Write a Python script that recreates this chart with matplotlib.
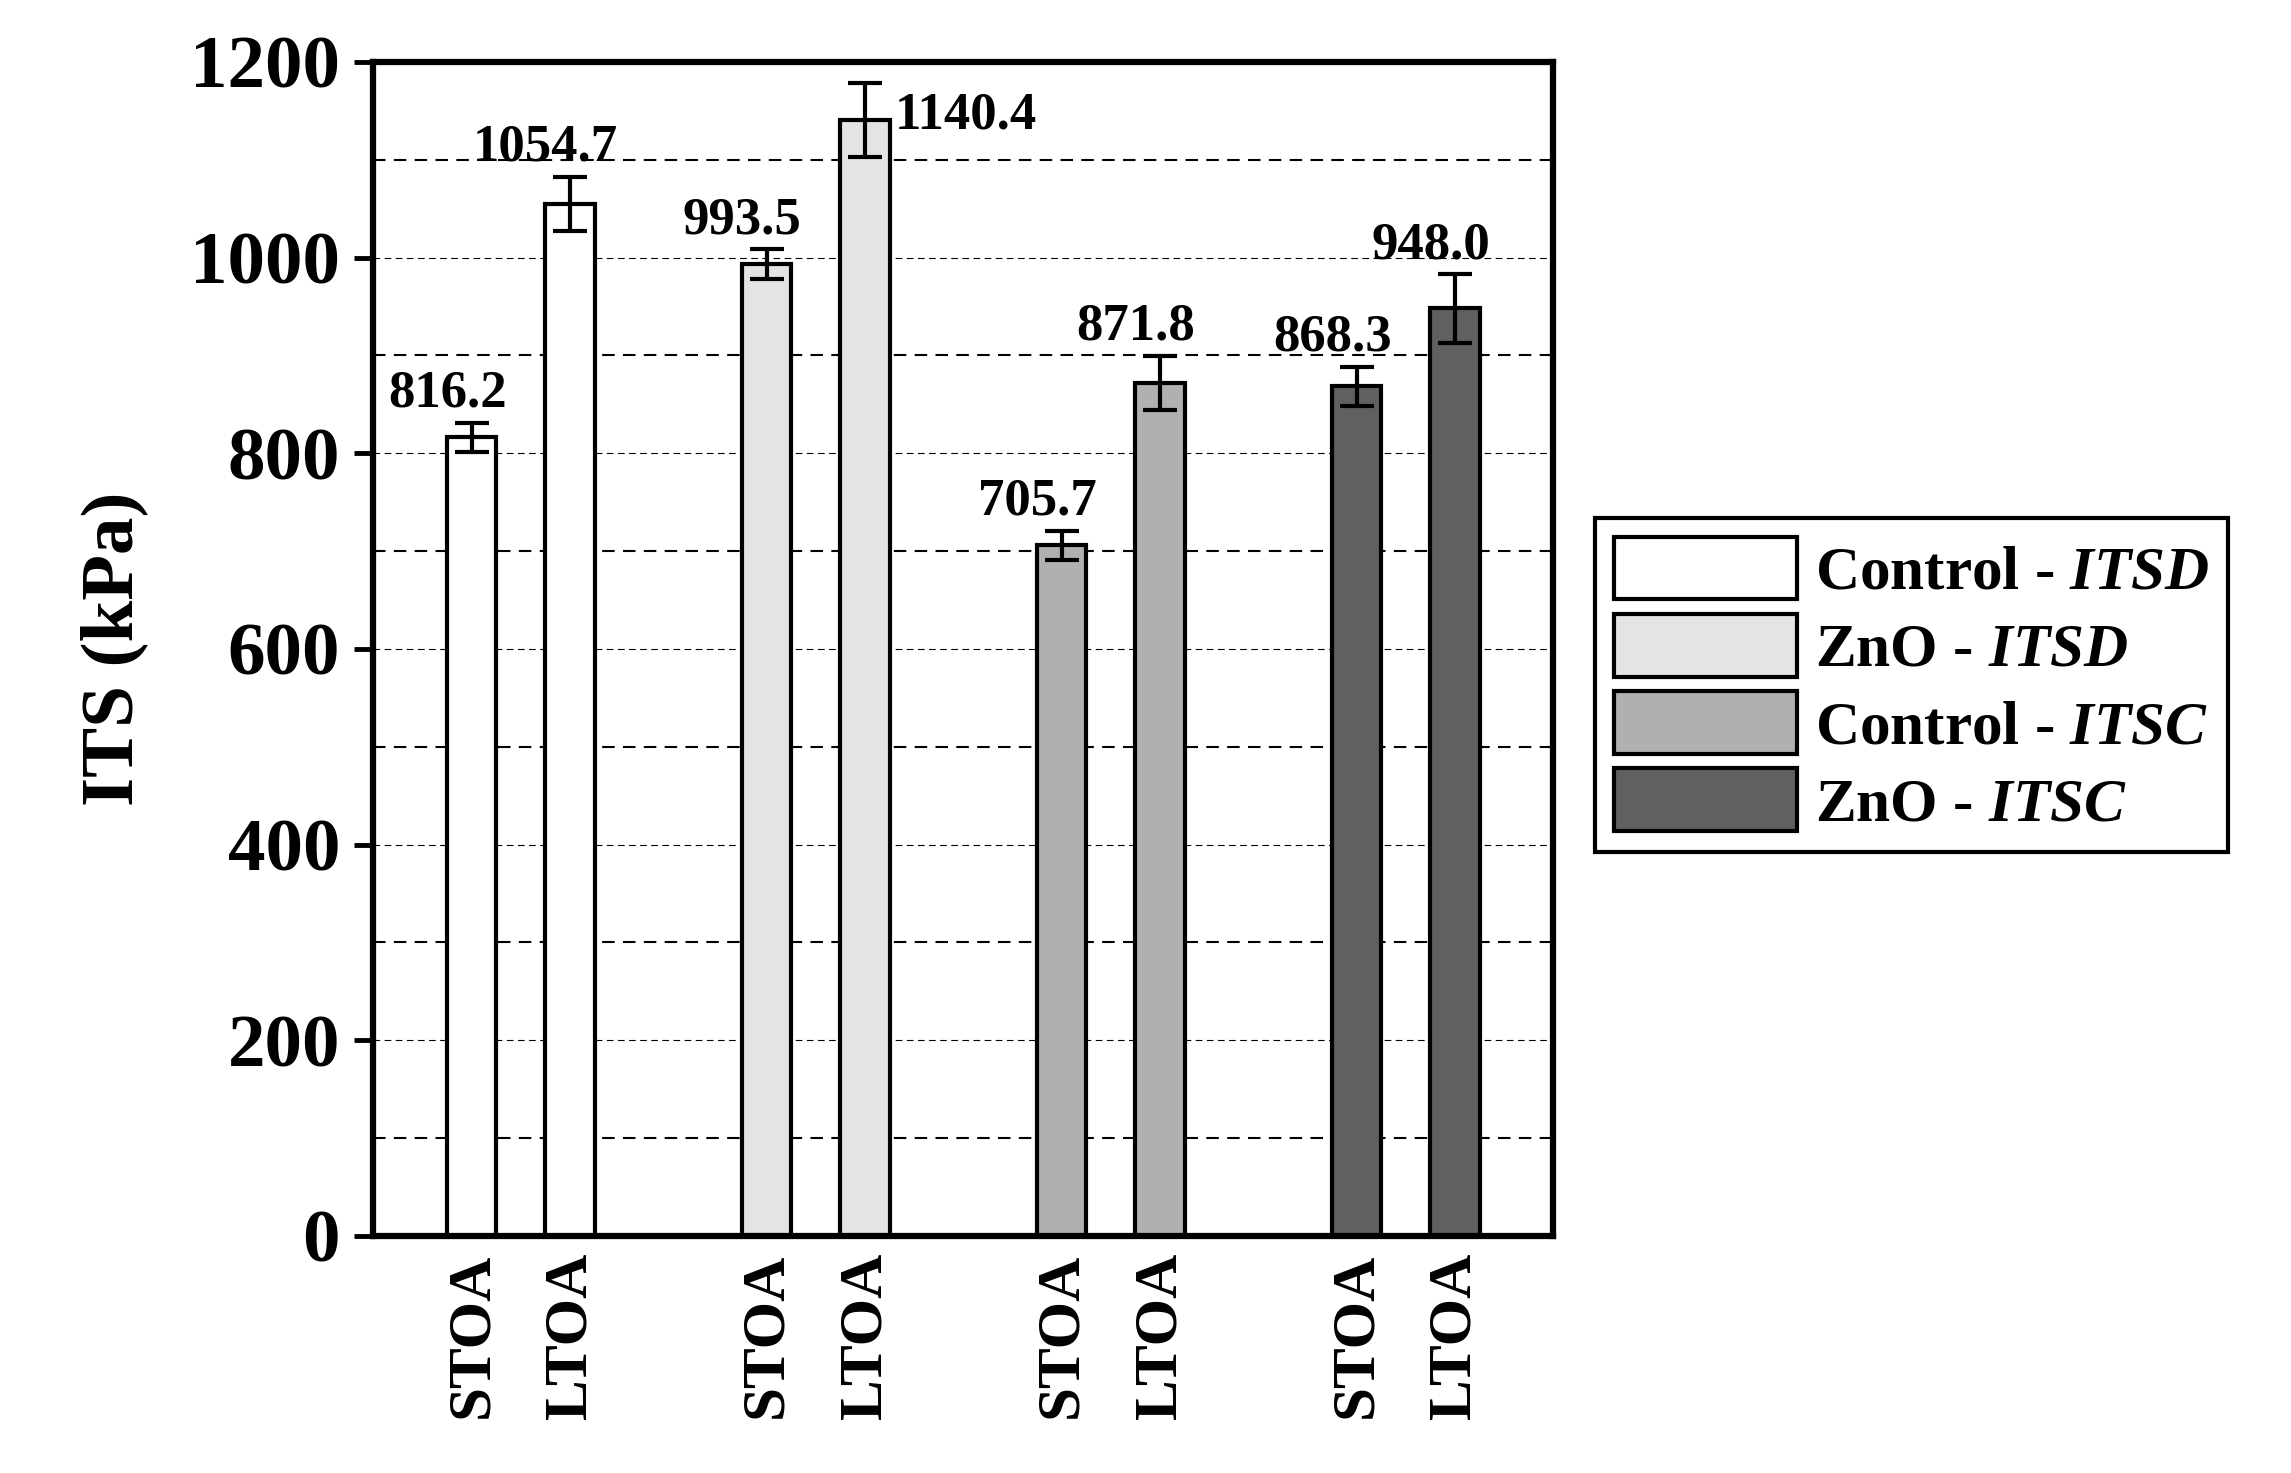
import matplotlib
matplotlib.use("Agg")
import matplotlib.pyplot as plt
from matplotlib.patches import Patch

plt.rcParams['font.family'] = ['Liberation Serif', 'DejaVu Serif']
plt.rcParams['font.weight'] = 'bold'
plt.rcParams['mathtext.fontset'] = 'custom'
plt.rcParams['mathtext.it'] = 'Liberation Serif:italic:bold'
plt.rcParams['mathtext.bf'] = 'Liberation Serif:bold'
plt.rcParams['mathtext.rm'] = 'Liberation Serif:bold'

labels = ["STOA", "LTOA"] * 4
values = [816.2, 1054.7, 993.5, 1140.4, 705.7, 871.8, 868.3, 948.0]
errors = [15, 28, 15, 38, 15, 28, 20, 35]
positions = [1, 2, 4, 5, 7, 8, 10, 11]
colors = ['white', 'white', '#e4e4e4', '#e4e4e4', '#b0b0b0', '#b0b0b0', '#606060', '#606060']
series = ["Control - ", "ZnO - ", "Control - ", "ZnO - "]
series_it = ["ITSD", "ITSD", "ITSC", "ITSC"]
series_col = ['white', '#e4e4e4', '#b0b0b0', '#606060']

fig = plt.figure(figsize=(22.91, 14.73), dpi=100)
ax = fig.add_axes([0.163, 0.161, 0.515, 0.797])
for y in range(100, 1200, 100):
    ax.axhline(y, color='black', ls=(0, (6, 4)), lw=1.5 if y % 200 else 0.8, zorder=0)
ax.bar(positions, values, width=0.5, color=colors, edgecolor='black', lw=3, zorder=2)
ax.errorbar(positions, values, yerr=errors, fmt='none', ecolor='black', elinewidth=3, capsize=12, capthick=3, zorder=3)
for p, v, e in zip(positions, values, errors):
    if v > 1100:
        ax.text(p + 0.3, v - 20, f"{v:.1f}", ha='left', va='bottom', fontsize=38, fontweight='bold')
    else:
        ax.text(p - 0.25, v + e + 5, f"{v:.1f}", ha='center', va='bottom', fontsize=38, fontweight='bold')
ax.set_xlim(0, 12)
ax.set_ylim(0, 1200)
ax.set_yticks(range(0, 1201, 200))
ax.set_xticks(positions)
ax.set_xticklabels(labels, rotation=90, fontsize=44, fontweight='bold')
ax.tick_params(axis='y', labelsize=54, width=3.5, length=14, pad=10)
ax.tick_params(axis='x', length=0, pad=12)
for t in ax.get_yticklabels():
    t.set_fontweight('bold')
for s in ax.spines.values():
    s.set_linewidth(4.5)
ax.set_ylabel("ITS (kPa)", fontsize=54, fontweight='bold', labelpad=30)

handles = [Patch(facecolor=c, edgecolor='black', lw=3) for c in series_col]
leg_labels = [f"{a}$\\mathit{{{b}}}$" for a, b in zip(series, series_it)]
leg = fig.legend(handles, leg_labels, loc='center left', bbox_to_anchor=(0.683, 0.535),
                 fontsize=44, fancybox=False, edgecolor='black', framealpha=1,
                 handlelength=3.0, handleheight=1.2, labelspacing=0.2, borderpad=0.3, handletextpad=0.3)
leg.get_frame().set_linewidth(3)
fig.savefig("out.png", dpi=100)
